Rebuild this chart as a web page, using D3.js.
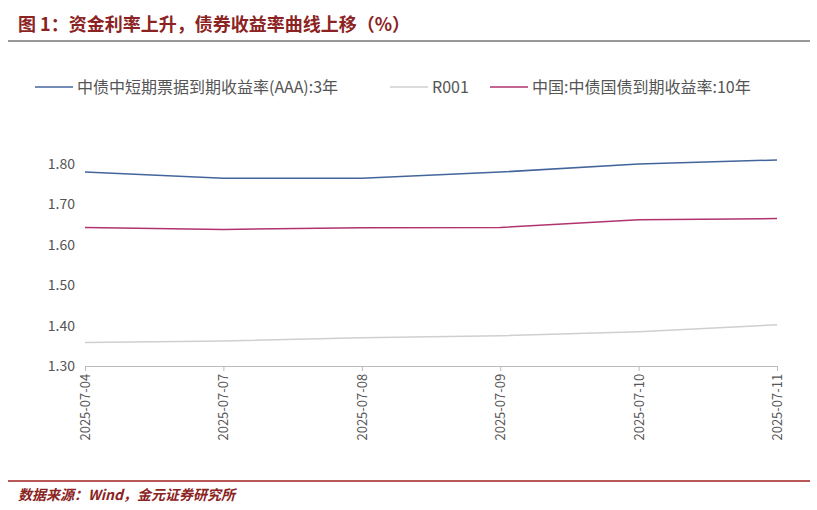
<!DOCTYPE html><html><head><meta charset="utf-8"><script src="https://cdn.jsdelivr.net/npm/d3@7"></script>
<style>body{margin:0;background:#fff}</style></head><body><svg id="c" width="817" height="510"></svg>
<script>
const dates=["2025-07-04","2025-07-07","2025-07-08","2025-07-09","2025-07-10","2025-07-11"];
const cp3=[1.78,1.765,1.765,1.78,1.80,1.81];
const r001=[1.358,1.362,1.370,1.375,1.385,1.402];
const gov10=[1.643,1.638,1.642,1.643,1.662,1.665];
const yTicks=[1.30,1.40,1.50,1.60,1.70,1.80];
const names=["中债中短期票据到期收益率(AAA):3年","R001","中国:中债国债到期收益率:10年"];
const colors=["#44659c","#cfcfcf","#b0336e"];
const svg=d3.select("#c"),F="'Noto Sans CJK SC',sans-serif";
svg.append("text").attr("x",18).attr("y",31).attr("font-family",F).attr("font-weight","bold").attr("font-size",18).attr("fill","#8b2323").text("图 1：资金利率上升，债券收益率曲线上移（%）");
svg.append("line").attr("x1",8).attr("x2",810).attr("y1",41).attr("y2",41).attr("stroke","#333").attr("stroke-width",1.2);
svg.append("line").attr("x1",8).attr("x2",810).attr("y1",481).attr("y2",481).attr("stroke","#a02020").attr("stroke-width",1.5);
svg.append("text").attr("x",18).attr("y",500).attr("font-family",F).attr("font-style","italic").attr("font-weight","bold").attr("font-size",14).attr("fill","#8b2323").text("数据来源：Wind，金元证券研究所");
const x=d3.scalePoint().domain(dates).range([85,777]);
const y=d3.scaleLinear().domain([1.30,1.80]).range([366,164]);
const ya=svg.append("g").attr("transform","translate(85,0)").call(d3.axisLeft(y).tickValues(yTicks).tickFormat(d3.format(".2f")).tickSize(0).tickPadding(10));
ya.select(".domain").remove();ya.selectAll("text").attr("font-family",F).attr("font-size",14).attr("fill","#555");
const xa=svg.append("g").attr("transform","translate(0,366)").call(d3.axisBottom(x).tickSize(5).tickSizeOuter(0));
xa.select(".domain").attr("stroke","#bbb");xa.selectAll("line").attr("stroke","#bbb");
xa.selectAll("text").attr("font-family",F).attr("font-size",13).attr("fill","#555").attr("transform","rotate(-90)").attr("text-anchor","end").attr("dx","-0.6em").attr("dy","0.35em").attr("x",0).attr("y",0);
const ln=d3.line().x((d,i)=>x(dates[i])).y(d=>y(d));
[cp3,r001,gov10].forEach((s,i)=>svg.append("path").attr("d",ln(s)).attr("fill","none").attr("stroke",colors[i]).attr("stroke-width",1.5));
const lx=[35,390,490];
names.forEach((n,i)=>{const g=svg.append("g").attr("transform",`translate(${lx[i]},87)`);
g.append("line").attr("x1",0).attr("x2",38).attr("stroke",colors[i]).attr("stroke-width",1.5);
g.append("text").attr("x",42).attr("y",6).attr("font-family",F).attr("font-size",16).attr("fill","#555").text(n);});
</script></body></html>
